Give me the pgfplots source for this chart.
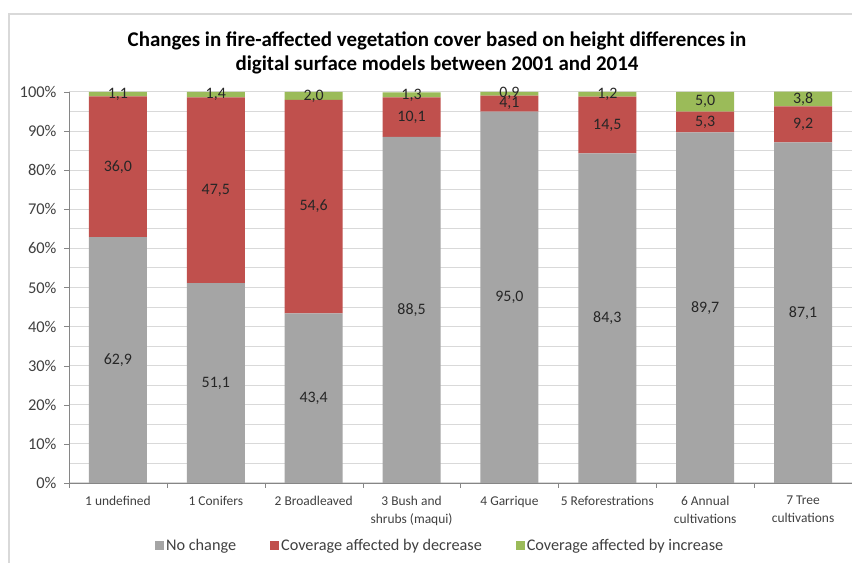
\documentclass[border=0pt]{standalone}
\usepackage{pgfplots}
\pgfplotsset{compat=1.18}
\usepackage{pgfplotstable}
\usepackage{fontspec}
\setmainfont{Carlito}
\definecolor{cgray}{HTML}{A5A5A5}
\definecolor{cred}{HTML}{C0504D}
\definecolor{cgreen}{HTML}{9BBB59}
\definecolor{gridc}{HTML}{D9D9D9}
\definecolor{axc}{HTML}{868686}
\definecolor{txt}{HTML}{404040}
\pgfplotstableread{
x nochange decrease increase
0 62.9 36.0 1.1
1 51.1 47.5 1.4
2 43.4 54.6 2.0
3 88.5 10.1 1.3
4 95.0 4.1 0.9
5 84.3 14.5 1.2
6 89.7 5.3 5.0
7 87.1 9.2 3.8
}\data
\pgfplotstableread{
x y lab
0 31.45 62,9
0 80.90 36,0
0 99.45 1,1
1 25.55 51,1
1 74.85 47,5
1 99.30 1,4
2 21.70 43,4
2 70.70 54,6
2 99.00 2,0
3 44.25 88,5
3 93.55 10,1
3 99.25 1,3
4 47.50 95,0
4 97.05 4,1
4 99.55 0,9
5 42.15 84,3
5 91.55 14,5
5 99.40 1,2
6 44.85 89,7
6 92.35 5,3
6 97.50 5,0
7 43.55 87,1
7 91.70 9,2
7 98.20 3,8
}\labels
\begin{document}
\begin{tikzpicture}[x=1bp,y=1bp]
\useasboundingbox (0,0) rectangle (852,563);
\clip (0,0) rectangle (852,563);
\fill[white] (0,0) rectangle (852,563);
\draw[color=gridc, line width=1.5bp] (9,-10) -- (9,549) -- (870,549);
\node[font=\bfseries\fontsize{21}{23.5}\selectfont, align=center, text=black] at (437,510)
  {Changes in fire-affected vegetation cover based on height differences in\\digital surface models between 2001 and 2014};
\pgfplotsset{common/.style={scale only axis, width=783bp, height=391bp,
  at={(69bp,80bp)}, anchor=south west, xmin=-0.5, xmax=7.5, ymin=0, ymax=100}}
\begin{axis}[common,
  ybar stacked, bar width=58bp,
  axis x line*=bottom, axis y line*=left,
  axis line style={draw=axc},
  xtick={0,...,7},
  xticklabels={{1 undefined},{1 Conifers},{2 Broadleaved},{3 Bush and\\shrubs (maqui)},{4 Garrique},{5 Reforestrations},{6 Annual\\cultivations},{7 Tree\\cultivations}},
  xticklabel style={font=\fontsize{13.5}{18}\selectfont, align=center, text=txt, inner sep=0pt, yshift=-8bp},
  major x tick style={draw=none},
  minor xtick={-0.5,0.5,...,7.5},
  minor x tick style={draw=axc},
  minor tick length=5bp,
  major tick length=5bp,
  tick align=outside,
  ytick={0,10,...,100},
  yticklabels={0\%,10\%,20\%,30\%,40\%,50\%,60\%,70\%,80\%,90\%,100\%},
  yticklabel style={font=\fontsize{16.5}{18}\selectfont, text=txt, xshift=-4bp},
  major y tick style={draw=axc},
  minor ytick={5,15,...,95},
  minor y tick style={draw=none},
  ymajorgrids, yminorgrids,
  major grid style={draw=gridc, line width=1bp},
  minor grid style={draw=gridc, line width=1bp},
  legend style={at={(0.474,-0.161)}, anchor=center, draw=none, fill=none,
    font=\fontsize{16.3}{18}\selectfont, text=txt,
    /tikz/every even column/.append style={column sep=32bp}},
  legend columns=-1,
  legend image code/.code={\fill[#1] (0bp,-4.5bp) rectangle (9bp,4.5bp);},
]
\addplot[fill=cgray, draw=none] table[x=x, y=nochange] {\data};
\addplot[fill=cred, draw=none] table[x=x, y=decrease] {\data};
\addplot[fill=cgreen, draw=none] table[x=x, y=increase] {\data};
\legend{No change, Coverage affected by decrease, Coverage affected by increase}
\end{axis}
\begin{axis}[common, hide axis, clip=false]
\addplot[draw=none, mark=none, nodes near coords, point meta=explicit symbolic,
  nodes near coords style={anchor=center, font=\fontsize{16}{18}\selectfont, text=black!85, inner sep=0pt}]
  table[x=x, y=y, meta=lab] {\labels};
\end{axis}
\end{tikzpicture}
\end{document}
